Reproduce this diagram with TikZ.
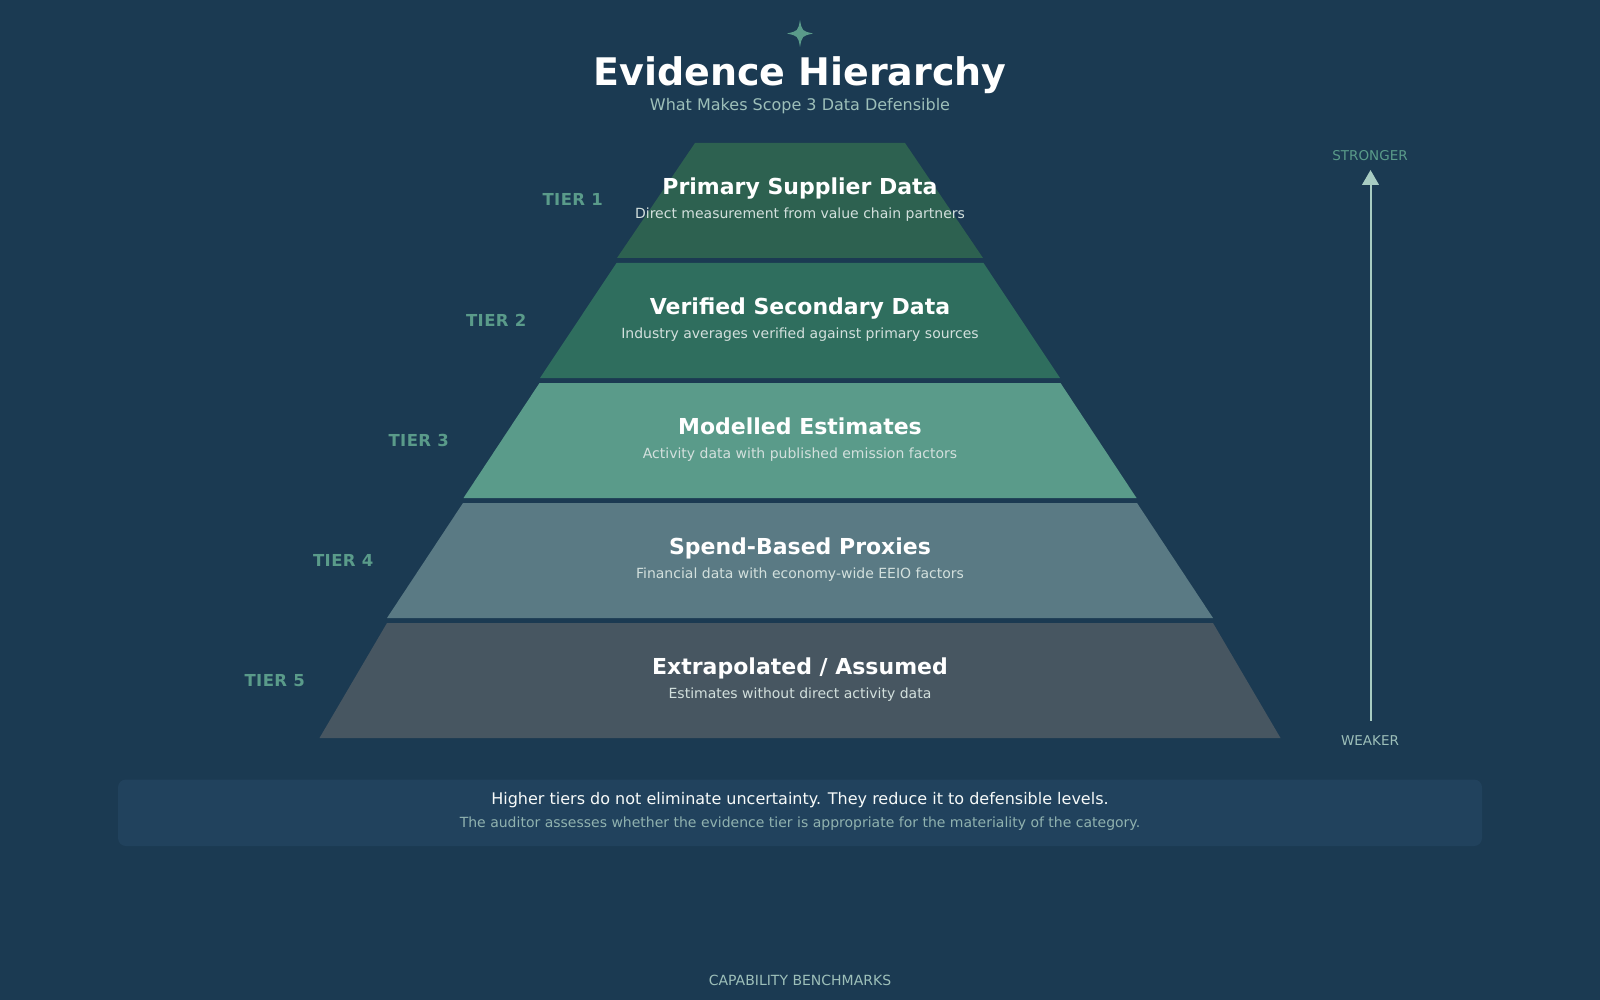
\documentclass[tikz,border=0pt]{standalone}
\usepackage{fontspec}
\setmainfont{DejaVu Sans}
\usetikzlibrary{arrows.meta}
\definecolor{bg}{HTML}{1B3A52}
\definecolor{tierA}{HTML}{2D6150}
\definecolor{tierB}{HTML}{2F6E5E}
\definecolor{tierC}{HTML}{5A9B8A}
\definecolor{tierD}{HTML}{5A7A84}
\definecolor{tierE}{HTML}{475661}
\definecolor{capbox}{HTML}{21425D}
\definecolor{accent}{HTML}{5A9B8A}
\definecolor{softtxt}{HTML}{9DBFB9}
\definecolor{desctxt}{HTML}{D3E0DD}
\definecolor{arrowc}{HTML}{A8CCC2}
\newcommand\pxsize[1]{\fontsize{#1}{#1}\selectfont}
\begin{document}
\begin{tikzpicture}[x=1pt,y=-1pt,
  tiertitle/.style={anchor=base, inner sep=0pt, text=white, font=\pxsize{22}\bfseries},
  tierdesc/.style={anchor=base, inner sep=0pt, text=desctxt, font=\pxsize{14}},
  tierlabel/.style={anchor=base east, inner sep=0pt, text=accent, font=\pxsize{16.5}\bfseries\addfontfeature{LetterSpace=2.5}},
  sidelabel/.style={anchor=base, inner sep=0pt, font=\pxsize{13.5}}]
\useasboundingbox (0,0) rectangle (1600,1000);
\fill[bg] (0,0) rectangle (1600,1000);

% star
\fill[accent] (800,20) .. controls (802,31) .. (813,33.5)
  .. controls (802,36) .. (800,47)
  .. controls (798,36) .. (787,33.5)
  .. controls (798,31) .. (800,20) -- cycle;

\node[anchor=base, inner sep=0pt, text=white, font=\pxsize{38}\bfseries] (title) at (800,85.5) {Evidence Hierarchy};
\node[anchor=base, inner sep=0pt, text=softtxt, font=\pxsize{16}] (subtitle) at (800,111) {What Makes Scope 3 Data Defensible};

% tiers
\fill[tierA] (695,143) -- (905,143) -- (983,258) -- (617,258) -- cycle;
\fill[tierB] (616.5,263) -- (983.5,263) -- (1060,378) -- (540,378) -- cycle;
\fill[tierC] (539.5,383) -- (1060.5,383) -- (1136.5,498) -- (463.5,498) -- cycle;
\fill[tierD] (463,503) -- (1137,503) -- (1213,618) -- (387,618) -- cycle;
\fill[tierE] (387,623) -- (1213,623) -- (1280.5,738) -- (319.5,738) -- cycle;

\node[tiertitle] (t1) at (800,194.8) {Primary Supplier Data};
\node[tierdesc] (d1) at (800,218.8) {Direct measurement from value chain partners};
\node[tiertitle] (t2) at (800,314.8) {Verified Secondary Data};
\node[tierdesc] (d2) at (800,338.8) {Industry averages verified against primary sources};
\node[tiertitle] (t3) at (800,434.8) {Modelled Estimates};
\node[tierdesc] (d3) at (800,458.8) {Activity data with published emission factors};
\node[tiertitle] (t4) at (800,554.8) {Spend-Based Proxies};
\node[tierdesc] (d4) at (800,578.8) {Financial data with economy-wide EEIO factors};
\node[tiertitle] (t5) at (800,674.8) {Extrapolated / Assumed};
\node[tierdesc] (d5) at (800,698.8) {Estimates without direct activity data};

\node[tierlabel] (l1) at (603,206) {TIER 1};
\node[tierlabel] (l2) at (526.5,326) {TIER 2};
\node[tierlabel] (l3) at (449,446) {TIER 3};
\node[tierlabel] (l4) at (373.5,566) {TIER 4};
\node[tierlabel] (l5) at (305,686) {TIER 5};

% strength arrow
\node[sidelabel, text=accent] (strong) at (1370,160.5) {STRONGER};
\node[sidelabel, text=softtxt] (weak) at (1370,745) {WEAKER};
\coordinate (abot) at (1370.5,720.5);
\coordinate (atop) at (1370.5,170);
\draw[arrowc, line width=2pt, -{Triangle[width=16.7pt,length=15pt]}] (abot) -- (atop);

% caption box
\fill[capbox, rounded corners=8pt] (118,779.5) rectangle (1482,846);
\node[anchor=base, inner sep=0pt, text=white!92!softtxt, font=\pxsize{16}] (cap1) at (800,804) {Higher tiers do not eliminate uncertainty. They reduce it to defensible levels.};
\node[anchor=base, inner sep=0pt, text=softtxt!90!bg, font=\pxsize{14}] (cap2) at (800,827.3) {The auditor assesses whether the evidence tier is appropriate for the materiality of the category.};

\node[anchor=base, inner sep=0pt, text=softtxt, font=\pxsize{14}] (foot) at (800,985.3) {CAPABILITY BENCHMARKS};
\end{tikzpicture}
\end{document}
